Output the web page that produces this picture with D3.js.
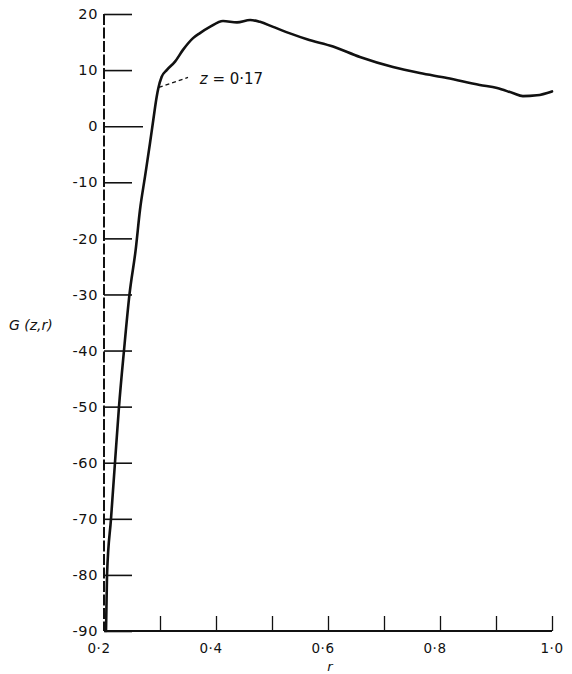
<!DOCTYPE html>
<html>
<head>
<meta charset="utf-8">
<script src="https://cdn.jsdelivr.net/npm/d3@7"></script>
<style>
  html, body { margin: 0; padding: 0; background: #fff; }
  svg { display: block; }
  text { font-family: "DejaVu Sans", sans-serif; fill: #111; }
</style>
</head>
<body>
<svg id="chart" width="572" height="674"></svg>
<script>
// ---- data ----
const rValues = [0.2036, 0.2054, 0.2125, 0.2196, 0.2268, 0.2357, 0.2455, 0.2566, 0.2643, 0.2732,
                 0.2821, 0.288, 0.2941, 0.297, 0.303, 0.312, 0.3268, 0.341, 0.359, 0.3714,
                 0.389, 0.4125, 0.4375, 0.461, 0.4786, 0.502, 0.5321, 0.5625, 0.609, 0.657,
                 0.716, 0.764, 0.8125, 0.871, 0.902, 0.930, 0.948, 0.973, 1.0];
const gValues = [-90, -80, -70, -60, -50, -40, -30, -22, -14.9, -9.0,
                 -3.05, 1.1, 5.26, 6.75, 8.8, 10.0, 11.5, 13.6, 15.7, 16.6,
                 17.7, 18.75, 18.5, 18.93, 18.6, 17.7, 16.55, 15.5, 14.2, 12.33,
                 10.55, 9.48, 8.59, 7.34, 6.8, 5.9, 5.35, 5.5, 6.2];
const xTicks = [0.3, 0.4, 0.5, 0.6, 0.7, 0.8, 0.9, 1.0];
const xTickLabels = [[0.2, "0·2"], [0.4, "0·4"], [0.6, "0·6"], [0.8, "0·8"], [1.0, "1·0"]];
const yTicks = [20, 10, 0, -10, -20, -30, -40, -50, -60, -70, -80, -90];
const annotationText = "0·17";
const annotationFrom = [0.298, 6.9];
const annotationTo = [0.350, 8.7];
const annotationAt = [0.371, 8.4];

// ---- scales ----
const x = d3.scaleLinear().domain([0.2, 1.0]).range([104, 552]);
const y = d3.scaleLinear().domain([20, -90]).range([14, 631]);

const svg = d3.select("#chart");

// ---- y axis ----
const yAxis = d3.axisRight(y).tickValues(yTicks).tickSize(28).tickFormat("");
const gy = svg.append("g").attr("transform", `translate(${x(0.2)},0)`).call(yAxis);
gy.select(".domain").remove();
gy.selectAll(".tick line").attr("stroke", "#111").attr("stroke-width", 1.6)
  .attr("x2", d => d === 0 ? 39 : 28);
svg.append("line")
  .attr("x1", x(0.2)).attr("x2", x(0.2))
  .attr("y1", y(20)).attr("y2", y(-90))
  .attr("stroke", "#111").attr("stroke-width", 2)
  .attr("stroke-dasharray", "11,2.5");

svg.append("g").selectAll("text").data(yTicks).join("text")
  .attr("x", x(0.2) - 6)
  .attr("y", d => y(d))
  .attr("dy", "0.36em")
  .attr("text-anchor", "end")
  .attr("font-size", 14.5)
  .attr("letter-spacing", 0.6)
  .text(d => String(d));

// ---- x axis ----
const xAxis = d3.axisTop(x).tickValues(xTicks).tickSize(15).tickFormat("");
const gx = svg.append("g").attr("transform", `translate(0,${y(-90)})`).call(xAxis);
gx.select(".domain").remove();
gx.selectAll(".tick line").attr("stroke", "#111").attr("stroke-width", 1.3);
svg.append("line")
  .attr("x1", x(0.2)).attr("x2", x(1.0))
  .attr("y1", y(-90)).attr("y2", y(-90))
  .attr("stroke", "#111").attr("stroke-width", 2);

svg.append("g").selectAll("text").data(xTickLabels).join("text")
  .attr("x", d => x(d[0]) - (d[0] < 1 ? 5 : 0))
  .attr("y", y(-90) + 17)
  .attr("dy", "0.36em")
  .attr("text-anchor", "middle")
  .attr("font-size", 13.5)
  .attr("letter-spacing", 0.5)
  .text(d => d[1]);

// ---- axis titles ----
svg.append("text")
  .attr("x", 330).attr("y", 671)
  .attr("text-anchor", "middle")
  .attr("font-size", 13)
  .attr("font-style", "italic")
  .text("r");

svg.append("text")
  .attr("x", 9).attr("y", 325)
  .attr("dy", "0.36em")
  .attr("font-size", 14)
  .attr("font-style", "italic")
  .text("G (z,r)");

// ---- curve ----
const pts = rValues.map((r, i) => [r, gValues[i]]);
const line = d3.line().x(d => x(d[0])).y(d => y(d[1])).curve(d3.curveMonotoneX);
svg.append("path")
  .attr("d", line(pts))
  .attr("fill", "none")
  .attr("stroke", "#111")
  .attr("stroke-width", 2.6)
  .attr("stroke-linejoin", "round")
  .attr("stroke-linecap", "round");

// ---- annotation ----
svg.append("line")
  .attr("x1", x(annotationFrom[0])).attr("y1", y(annotationFrom[1]))
  .attr("x2", x(annotationTo[0])).attr("y2", y(annotationTo[1]))
  .attr("stroke", "#111").attr("stroke-width", 1.3)
  .attr("stroke-dasharray", "4,3");

const at = svg.append("text")
  .attr("x", x(annotationAt[0])).attr("y", y(annotationAt[1]))
  .attr("dy", "0.36em")
  .attr("font-size", 15);
at.append("tspan").attr("font-style", "italic").text("z");
at.append("tspan").text(" = " + annotationText);
</script>
</body>
</html>
